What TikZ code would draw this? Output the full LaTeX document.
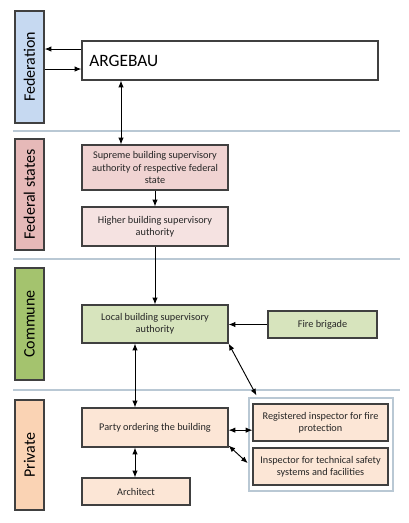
\documentclass[tikz,border=0pt]{standalone}
\usepackage{fontspec}
\setmainfont{Carlito}
\usetikzlibrary{positioning,arrows.meta}
\definecolor{fedblue}{HTML}{C6D9F1}
\definecolor{staterose}{HTML}{E6B9B8}
\definecolor{supremerose}{HTML}{F0D3D2}
\definecolor{higherrose}{HTML}{F5E2E1}
\definecolor{communegreen}{HTML}{A4C36E}
\definecolor{localgreen}{HTML}{D7E4BD}
\definecolor{privatepeach}{HTML}{FAD3B4}
\definecolor{partypeach}{HTML}{FCE6D6}
\definecolor{sepline}{HTML}{B9C8D4}
\definecolor{framegray}{HTML}{404040}
\tikzset{
  band/.style={draw=framegray, line width=0.9pt, rotate=90, minimum height=21.75pt,
    inner sep=0pt, font=\fontsize{12}{14}\selectfont},
  unit/.style={draw=framegray, line width=0.9pt, align=center, inner sep=2pt,
    minimum width=109.5pt, text=black!85, font=\fontsize{7.7}{9.2}\selectfont},
  level/.style={sepline, line width=0.8pt},
  flow/.style={-{Latex[length=5pt,width=4pt]}, line width=0.7pt},
  both/.style={{Latex[length=5pt,width=4pt]}-{Latex[length=5pt,width=4pt]}, line width=0.7pt},
}
\begin{document}
\begin{tikzpicture}[x=0.75pt,y=-0.75pt]
  \useasboundingbox (0,0) rectangle (408,523);

  % levels
  \draw[level] (13,131) -- (400,131);
  \draw[level] (13,259) -- (400,259);
  \draw[level] (13,390) -- (400,390);

  % bands on the left
  \node[band, fill=fedblue, minimum width=84pt] (federation) at (29.5,67) {Federation};
  \node[band, fill=staterose, minimum width=83.25pt] (states) at (29.5,194.5) {Federal states};
  \node[band, fill=communegreen, minimum width=84pt] (commune) at (29.5,324) {Commune};
  \node[band, fill=privatepeach, minimum width=82.5pt] (private) at (29.5,455) {Private};

  % federation
  \node[draw=framegray, line width=0.9pt, minimum width=222pt, minimum height=29.25pt,
    text width=211pt, align=left, inner sep=4pt, font=\fontsize{13}{15}\selectfont]
    (argebau) at (230,60.5) {ARGEBAU};

  % federal states
  \node[unit, fill=supremerose, minimum height=33.75pt] (supreme) at (155,167.5)
    {Supreme building supervisory\\authority of respective federal\\state};
  \node[unit, fill=higherrose, minimum height=29.25pt] (higher) at (155,226.5)
    {Higher building supervisory\\authority};

  % commune
  \node[unit, fill=localgreen, minimum height=28.5pt] (local) at (155,324)
    {Local building supervisory\\authority};
  \node[unit, fill=localgreen, minimum width=81.75pt,
    minimum height=20.25pt] (fire) at (322.5,324.5) {Fire brigade};

  % private
  \node[draw=sepline, line width=0.8pt, minimum width=108pt, minimum height=69.75pt]
    (inspectors) at (321,444.5) {};
  \node[unit, fill=partypeach, minimum height=29.25pt] (party) at (155,427.5)
    {Party ordering the building};
  \node[unit, fill=partypeach, minimum width=81pt,
    minimum height=20.25pt] (architect) at (136,491.5) {Architect};
  \node[unit, fill=partypeach, minimum width=101.25pt,
    minimum height=27.75pt] (registered) at (320.5,422.5)
    {Registered inspector for fire\\protection};
  \node[unit, fill=partypeach, minimum width=101.25pt,
    minimum height=27.75pt] (inspector) at (320.5,466.5)
    {Inspector for technical safety\\systems and facilities};

  % connections
  \draw[flow] ([yshift=8.6pt]argebau.west) -- ([yshift=8.6pt]argebau.west -| federation.south);
  \draw[flow] ([yshift=-6.4pt]argebau.west -| federation.south) -- ([yshift=-6.4pt]argebau.west);
  \draw[both] (argebau.south -| 121,0) -- (supreme.north -| 121,0);
  \draw[flow] (supreme.south) -- (higher.north);
  \draw[flow] (higher.south) -- (local.north);
  \draw[flow] (fire.west) -- (fire.west -| local.east);
  \draw[both] (local.south -| 135,0) -- (party.north -| 135,0);
  \draw[both] (local.south east) -- ([xshift=6pt,yshift=1.5pt]inspectors.north west);
  \draw[both] ([yshift=-2pt]party.east) -- ([yshift=-2pt]party.east -| registered.west);
  \draw[both] ([yshift=1.5pt]party.south east) -- ([xshift=-3.5pt,yshift=2.5pt]inspector.west);
  \draw[both] (party.south -| 135,0) -- (architect.north -| 135,0);
\end{tikzpicture}
\end{document}
